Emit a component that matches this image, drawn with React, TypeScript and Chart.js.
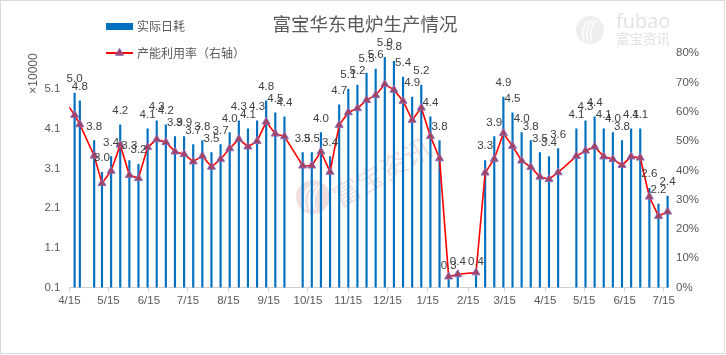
import React, { useEffect, useRef } from 'react';
import { Chart, registerables } from 'chart.js';

Chart.register(...registerables);

const chartTitle = '富宝华东电炉生产情况';
const barLabel = '实际日耗';
const lineLabel = '产能利用率（右轴）';
const leftAxisTitle = '×10000';

const barDates = [
  '2020-04-19', '2020-04-23', '2020-05-04', '2020-05-10', '2020-05-17', '2020-05-24', '2020-05-31',
  '2020-06-07', '2020-06-14', '2020-06-21', '2020-06-28', '2020-07-05', '2020-07-12', '2020-07-19',
  '2020-07-26', '2020-08-02', '2020-08-09', '2020-08-16', '2020-08-23', '2020-08-30', '2020-09-06',
  '2020-09-13', '2020-09-20', '2020-09-27', '2020-10-11', '2020-10-18', '2020-10-25', '2020-11-01',
  '2020-11-08', '2020-11-15', '2020-11-22', '2020-11-29', '2020-12-06', '2020-12-13', '2020-12-20',
  '2020-12-27', '2021-01-03', '2021-01-10', '2021-01-17', '2021-01-24', '2021-01-31', '2021-02-07',
  '2021-02-21', '2021-02-28', '2021-03-07', '2021-03-14', '2021-03-21', '2021-03-28', '2021-04-04',
  '2021-04-11', '2021-04-18', '2021-04-25', '2021-05-09', '2021-05-16', '2021-05-23', '2021-05-30',
  '2021-06-06', '2021-06-13', '2021-06-20', '2021-06-27', '2021-07-04', '2021-07-11', '2021-07-18',
];

const dailyUse = [
  5.0, 4.8, 3.8, 3.0, 3.4, 4.2, 3.3,
  3.2, 4.1, 4.3, 4.2, 3.9, 3.9, 3.7,
  3.8, 3.5, 3.7, 4.0, 4.3, 4.1, 4.3,
  4.8, 4.5, 4.4, 3.5, 3.5, 4.0, 3.4,
  4.7, 5.1, 5.2, 5.5, 5.6, 5.9, 5.8,
  5.4, 4.9, 5.2, 4.4, 3.8, 0.3, 0.4,
  0.4, 3.3, 3.9, 4.9, 4.5, 4.0, 3.8,
  3.5, 3.4, 3.6, 4.1, 4.3, 4.4, 4.1,
  4.0, 3.8, 4.1, 4.1, 2.6, 2.2, 2.4,
];

const rateDates = ['2020-04-12'].concat(barDates);

const utilization = [
  63.4,
  58.9, 55.7, 45.0, 35.6, 39.8, 48.7, 38.4,
  37.3, 47.9, 50.6, 49.6, 46.4, 45.5, 43.0,
  44.9, 41.2, 43.8, 47.5, 50.7, 48.1, 50.0,
  56.6, 52.5, 51.6, 41.6, 41.6, 46.4, 39.5,
  55.5, 59.8, 61.2, 64.0, 65.7, 69.4, 67.5,
  63.7, 57.2, 61.4, 51.7, 44.1, 3.7, 4.5,
  5.1, 39.2, 43.9, 52.7, 48.3, 43.3, 41.1,
  37.8, 37.0, 39.3, 44.9, 46.7, 48.1, 44.7,
  43.8, 41.8, 44.7, 44.3, 31.0, 24.4, 25.9,
];

const xTickDates = [
  '2020-04-15', '2020-05-15', '2020-06-15', '2020-07-15', '2020-08-15', '2020-09-15', '2020-10-15',
  '2020-11-15', '2020-12-15', '2021-01-15', '2021-02-15', '2021-03-15', '2021-04-15', '2021-05-15',
  '2021-06-15', '2021-07-15',
];
const xTickLabels = [
  '4/15', '5/15', '6/15', '7/15', '8/15', '9/15', '10/15', '11/15', '12/15', '1/15', '2/15', '3/15',
  '4/15', '5/15', '6/15', '7/15',
];
const leftTicks = [0.1, 1.1, 2.1, 3.1, 4.1, 5.1];
const rightTicks = [0, 10, 20, 30, 40, 50, 60, 70, 80];

const ORIGIN = Date.UTC(2020, 3, 15);
function dayOf(s: string): number {
  const [y, m, d] = s.split('-').map(Number);
  return (Date.UTC(y, m - 1, d) - ORIGIN) / 86400000;
}

const CJK = '"Noto Sans CJK SC", "Liberation Sans", sans-serif';
const NUM = '"Liberation Sans", "Noto Sans CJK SC", sans-serif';

function drawLogo(ctx: CanvasRenderingContext2D, cx: number, cy: number, r: number, color: string) {
  ctx.save();
  ctx.fillStyle = color;
  ctx.beginPath();
  ctx.arc(cx, cy, r, 0, Math.PI * 2);
  ctx.fill();
  ctx.strokeStyle = 'rgba(255,255,255,0.9)';
  ctx.lineWidth = Math.max(1.2, r * 0.12);
  for (let i = 0; i < 3; i++) {
    const off = (i - 1) * r * 0.28;
    ctx.beginPath();
    ctx.moveTo(cx + off - r * 0.15, cy + r * 0.75);
    ctx.quadraticCurveTo(cx + off - r * 0.45, cy - r * 0.1, cx + off + r * 0.2, cy - r * 0.7);
    ctx.stroke();
  }
  ctx.restore();
}

const decorPlugin = {
  id: 'decor',
  beforeDraw(chart: any) {
    const ctx: CanvasRenderingContext2D = chart.ctx;
    ctx.save();
    ctx.fillStyle = '#ffffff';
    ctx.fillRect(0, 0, chart.width, chart.height);
    ctx.strokeStyle = '#D9D9D9';
    ctx.lineWidth = 1;
    ctx.strokeRect(0.5, 0.5, 724, 353);

    // title
    ctx.fillStyle = '#595959';
    ctx.font = `18.5px ${CJK}`;
    ctx.textAlign = 'center';
    ctx.textBaseline = 'middle';
    ctx.fillText(chartTitle, 365, 24);

    // top-right watermark
    drawLogo(ctx, 590, 30, 14, '#EEEEEE');
    ctx.fillStyle = '#E2E2E2';
    ctx.textAlign = 'left';
    ctx.textBaseline = 'alphabetic';
    ctx.font = `20px "Open Sans", ${NUM}`;
    ctx.fillText('fubao', 616, 28);
    ctx.font = `13.5px ${CJK}`;
    ctx.textBaseline = 'middle';
    ctx.fillText('富宝资讯', 616, 38.5);

    // legend
    ctx.fillStyle = '#0070C0';
    ctx.fillRect(106, 23, 27, 7);
    ctx.fillStyle = '#595959';
    ctx.font = `12px ${CJK}`;
    ctx.textBaseline = 'middle';
    ctx.fillText(barLabel, 137, 26.5);

    ctx.strokeStyle = '#FF0000';
    ctx.lineWidth = 2;
    ctx.beginPath();
    ctx.moveTo(106, 53);
    ctx.lineTo(133, 53);
    ctx.stroke();
    const r = 4.6;
    ctx.beginPath();
    ctx.moveTo(119.5, 53 - r);
    ctx.lineTo(119.5 + r * Math.sin((2 * Math.PI) / 3), 53 - r * Math.cos((2 * Math.PI) / 3));
    ctx.lineTo(119.5 + r * Math.sin((4 * Math.PI) / 3), 53 - r * Math.cos((4 * Math.PI) / 3));
    ctx.closePath();
    ctx.fillStyle = '#A5405E';
    ctx.fill();
    ctx.strokeStyle = '#8B6BB5';
    ctx.lineWidth = 1;
    ctx.stroke();
    ctx.fillStyle = '#595959';
    ctx.fillText(lineLabel, 137, 53);
    ctx.restore();
  },
  beforeDatasetsDraw(chart: any) {
    const ctx: CanvasRenderingContext2D = chart.ctx;
    ctx.save();
    drawLogo(ctx, 313, 197, 17, 'rgba(200,140,140,0.28)');
    ctx.translate(382, 172);
    ctx.rotate((-30 * Math.PI) / 180);
    ctx.fillStyle = 'rgba(200,130,130,0.25)';
    ctx.font = `27px ${CJK}`;
    ctx.textAlign = 'center';
    ctx.textBaseline = 'middle';
    ctx.fillText('富宝资讯', 0, 0);
    ctx.restore();
  },
  afterDatasetsDraw(chart: any) {
    const ctx: CanvasRenderingContext2D = chart.ctx;
    const meta = chart.getDatasetMeta(0);
    ctx.save();
    ctx.fillStyle = '#404040';
    ctx.font = `11.5px ${NUM}`;
    ctx.textAlign = 'center';
    ctx.textBaseline = 'alphabetic';
    meta.data.forEach((el: any, i: number) => {
      const v = dailyUse[i];
      if (v == null) return;
      ctx.fillText(v.toFixed(1), el.x, el.y - 11);
    });
    ctx.restore();
  },
};

export default function App() {
  const ref = useRef<HTMLCanvasElement>(null);
  useEffect(() => {
    document.body.style.margin = '0';
    const barData = barDates.map((d, i) => ({ x: dayOf(d), y: dailyUse[i] }));
    const lineData = rateDates.map((d, i) => ({ x: dayOf(d), y: utilization[i] }));
    const tickFont = { family: NUM, size: 11.5 };
    const chart = new Chart(ref.current as HTMLCanvasElement, {
      type: 'bar',
      data: {
        datasets: [
          {
            type: 'bar',
            label: barLabel,
            data: barData as any,
            xAxisID: 'x',
            yAxisID: 'y',
            backgroundColor: '#0070C0',
            barThickness: 1.5,
            order: 1,
            clip: { left: 0, right: 4, top: 20, bottom: 0 } as any,
          },
          {
            type: 'line',
            label: lineLabel,
            data: lineData as any,
            xAxisID: 'x',
            yAxisID: 'y1',
            borderColor: '#FF0000',
            borderWidth: 1.6,
            tension: 0,
            pointStyle: 'triangle',
            pointRadius: (c: any) => (c.dataIndex === 0 ? 0 : 4.6),
            pointBackgroundColor: '#A5405E',
            pointBorderColor: '#8B6BB5',
            pointBorderWidth: 1,
            order: 0,
            clip: { left: 0, right: 8, top: 8, bottom: 8 } as any,
          } as any,
        ],
      },
      options: {
        responsive: false,
        animation: false,
        devicePixelRatio: 1,
        layout: { padding: { left: 0, right: 0, top: 53.3, bottom: 37.5 } },
        plugins: {
          legend: { display: false },
          title: { display: false },
          tooltip: { enabled: false },
        },
        scales: {
          x: {
            type: 'linear',
            position: 'bottom',
            offset: false,
            min: 0,
            max: 459.3,
            afterBuildTicks: (s: any) => {
              s.ticks = xTickDates.map((d) => ({ value: dayOf(d) }));
            },
            afterFit: (s: any) => {
              s.height = 30;
            },
            grid: {
              display: true,
              offset: false,
              drawOnChartArea: false,
              drawTicks: true,
              tickLength: 4,
              color: '#D0D0D0',
            },
            border: { display: true, color: '#D0D0D0', width: 1 },
            ticks: {
              autoSkip: false,
              maxRotation: 0,
              minRotation: 0,
              padding: 2,
              color: '#595959',
              font: tickFont,
              callback: (_v: any, i: number) => xTickLabels[i],
            },
          },
          y: {
            type: 'linear',
            position: 'left',
            min: 0.1,
            max: 6.0,
            afterBuildTicks: (s: any) => {
              s.ticks = leftTicks.map((v) => ({ value: v }));
            },
            afterFit: (s: any) => {
              s.width = 69.4;
            },
            grid: { display: false, drawTicks: false, tickLength: 0 },
            border: { display: false },
            title: {
              display: true,
              text: leftAxisTitle,
              align: 'end',
              color: '#595959',
              font: { family: NUM, size: 12 },
              padding: { top: 26, bottom: 0 },
            },
            ticks: {
              padding: 9,
              color: '#595959',
              font: tickFont,
              callback: (v: any) => Number(v).toFixed(1),
            },
          },
          y1: {
            type: 'linear',
            position: 'right',
            min: 0,
            max: 80,
            afterBuildTicks: (s: any) => {
              s.ticks = rightTicks.map((v) => ({ value: v }));
            },
            afterFit: (s: any) => {
              s.width = 58;
            },
            grid: { display: false, drawTicks: false, tickLength: 0 },
            border: { display: false },
            ticks: {
              padding: 8,
              color: '#595959',
              font: tickFont,
              callback: (v: any) => `${v}%`,
            },
          },
        },
      },
      plugins: [decorPlugin],
    } as any);
    return () => chart.destroy();
  }, []);
  return (
    <div style={{ position: 'absolute', left: 0, top: 0, width: 726, height: 355, background: '#fff' }}>
      <canvas ref={ref} width={726} height={355} style={{ display: 'block', width: 726, height: 355 }} />
    </div>
  );
}
